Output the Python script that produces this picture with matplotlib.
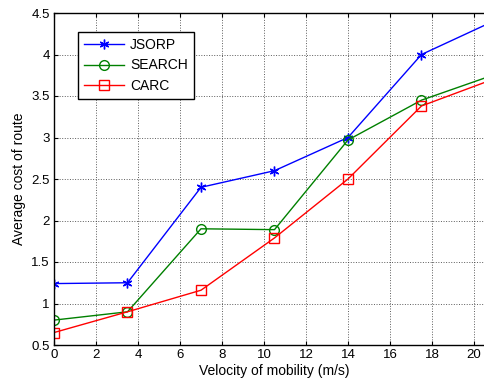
import matplotlib.pyplot as plt
import numpy as np

plt.rcParams['font.family'] = ['Liberation Sans', 'DejaVu Sans']

# data
speed = [0, 3.5, 7, 10.5, 14, 17.5, 21]
jsorp = [1.24, 1.25, 2.4, 2.6, 3.0, 4.0, 4.41]
search = [0.8, 0.9, 1.9, 1.89, 2.97, 3.45, 3.76]
carc = [0.65, 0.9, 1.16, 1.79, 2.5, 3.38, 3.71]

fig = plt.figure(figsize=(4.85, 3.82), dpi=100)
# axes run a bit past the right edge of the figure, like the cropped original
ax = fig.add_axes([54/485, 37/382, 441/485, 332/382])

ax.plot(speed, jsorp, color='#0000ff', lw=1, marker=(6, 2, 0), ms=7, mew=1, label='JSORP')
ax.plot(speed, search, color='#008000', lw=1, marker='o', ms=7, mfc='none', mew=1, label='SEARCH')
ax.plot(speed, carc, color='#ff0000', lw=1, marker='s', ms=7, mfc='none', mew=1, label='CARC')

ax.set_xlim(0, 21)
ax.set_ylim(0.5, 4.5)
ax.set_xticks(np.arange(0, 21, 2))
ax.set_yticks(np.arange(0.5, 4.6, 0.5))
ax.set_yticklabels(['0.5', '1', '1.5', '2', '2.5', '3', '3.5', '4', '4.5'])
ax.tick_params(direction='in', top=True, right=True, labelsize=9.5, length=3, pad=3)
ax.grid(True, color='#333333', linestyle=':', linewidth=0.7, alpha=0.8)
for s in ax.spines.values():
    s.set_linewidth(1)

ax.set_xlabel('Velocity of mobility (m/s)', fontsize=10, labelpad=2)
ax.set_ylabel('Average cost of route', fontsize=10, labelpad=4)

leg = ax.legend(loc='upper left', bbox_to_anchor=(0.054, 0.943), fontsize=10,
                borderaxespad=0, fancybox=False, framealpha=1, edgecolor='black',
                handlelength=2.9, handletextpad=0.4, borderpad=0.45, labelspacing=0.45)
leg.get_frame().set_linewidth(1)

fig.savefig('out.png', dpi=100)
